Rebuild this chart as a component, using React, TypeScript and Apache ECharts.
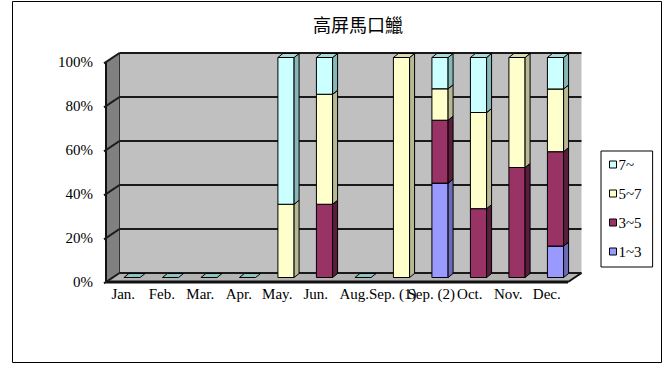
import React, { useEffect, useRef } from "react";
import * as echarts from "echarts";

// Months sampled (Sep. was sampled twice)
const categories = [
  "Jan.", "Feb.", "Mar.", "Apr.", "May.", "Jun.",
  "Aug.", "Sep. (1)", "Sep. (2)", "Oct.", "Nov.", "Dec.",
];

// Share (%) of each size class per month
const size1to3 = [0, 0, 0, 0, 0, 0, 0, 0, 42.9, 0, 0, 14.3];
const size3to5 = [0, 0, 0, 0, 0, 33.3, 0, 0, 28.6, 31.3, 50, 42.9];
const size5to7 = [0, 0, 0, 0, 33.3, 50, 0, 100, 14.3, 43.7, 50, 28.5];
const size7up = [0, 0, 0, 0, 66.7, 16.7, 0, 0, 14.2, 25, 0, 14.3];

const seriesNames = ["1~3", "3~5", "5~7", "7~"];
const seriesValues = [size1to3, size3to5, size5to7, size7up];
const yTicks = [0, 20, 40, 60, 80, 100];

const TITLE = "高屏馬口鱲";

// face colours: front, side, top
const palette = [
  { front: "#9999FF", side: "#6B6BB8", top: "#8080E0" },
  { front: "#993366", side: "#5A1E3C", top: "#7A2952" },
  { front: "#FFFFCC", side: "#B8B893", top: "#DADAAE" },
  { front: "#CCFFFF", side: "#86B8B8", top: "#A8DADA" },
];
const flatColor = "#8CC2C2";

// wall depth and bar depth offsets (3D look)
const DX = 13.5;
const DY = -9;
const BDX = 5;
const BDY = -4;

const SERIF = "'Liberation Serif', 'DejaVu Serif', serif";

export default function App() {
  const ref = useRef<HTMLDivElement>(null);

  useEffect(() => {
    if (!ref.current) return;
    const chart = echarts.init(ref.current, null, { renderer: "svg" });

    const frameSeries = {
      type: "custom",
      name: "frame",
      silent: true,
      clip: false,
      z: 1,
      encode: { x: 0, y: 1 },
      data: yTicks.map((v) => [0, v]),
      renderItem: (params: any, api: any) => {
        const cs = params.coordSys;
        const v = api.value(1);
        const y = api.coord([0, v])[1];
        const x = cs.x;
        const w = cs.width;
        const yb = cs.y + cs.height;
        const children: any[] = [];
        if (params.dataIndex === 0) {
          children.push({
            type: "rect",
            shape: { x: x + DX, y: cs.y + DY, width: w, height: cs.height },
            style: { fill: "#C0C0C0" },
          });
          children.push({
            type: "polygon",
            shape: {
              points: [
                [x, cs.y], [x + DX, cs.y + DY], [x + DX, yb + DY], [x, yb],
              ],
            },
            style: { fill: "#808080", stroke: "#333", lineWidth: 1 },
          });
          children.push({
            type: "polygon",
            shape: {
              points: [
                [x, yb], [x + DX, yb + DY], [x + DX + w, yb + DY], [x + w, yb],
              ],
            },
            style: { fill: "#B4B4B4" },
          });
          children.push({
            type: "line",
            shape: { x1: x, y1: yb, x2: x + w, y2: yb },
            style: { stroke: "#111", lineWidth: 3 },
          });
          children.push({
            type: "line",
            shape: { x1: x + w, y1: yb, x2: x + w + DX, y2: yb + DY },
            style: { stroke: "#111", lineWidth: 2 },
          });
          children.push({
            type: "line",
            shape: { x1: x, y1: cs.y, x2: x, y2: yb },
            style: { stroke: "#111", lineWidth: 2 },
          });
        }
        children.push({
          type: "line",
          shape: { x1: x + DX, y1: y + DY, x2: x + DX + w, y2: y + DY },
          style: { stroke: "#1a1a1a", lineWidth: 2 },
        });
        children.push({
          type: "line",
          shape: { x1: x - 2, y1: y + 1.3, x2: x + DX, y2: y + DY },
          style: { stroke: "#1a1a1a", lineWidth: 2 },
        });
        return { type: "group", children };
      },
    };

    const barSeries = seriesValues.map((vals, k) => {
      const data = vals.map((v, i) => {
        let start = 0;
        for (let j = 0; j < k; j++) start += seriesValues[j][i];
        return [i, start, start + v];
      });
      const col = palette[k];
      const isTop = k === seriesValues.length - 1;
      return {
        type: "custom",
        name: seriesNames[k],
        clip: false,
        z: 2,
        itemStyle: { color: col.front, borderColor: "#000", borderWidth: 1 },
        encode: { x: 0, y: [1, 2] },
        data,
        renderItem: (params: any, api: any) => {
          const i = api.value(0);
          const s = api.value(1);
          const e = api.value(2);
          const band = api.size([1, 0])[0];
          const bw = band * 0.42;
          const p0 = api.coord([i, s]);
          const p1 = api.coord([i, e]);
          const x0 = p0[0] - bw / 2 + DX / 2;
          const x1 = x0 + bw;
          const yb = p0[1] + DY / 2;
          const yt = p1[1] + DY / 2;
          if (e - s <= 0) {
            if (isTop && e <= 0) {
              return {
                type: "polygon",
                shape: {
                  points: [
                    [x0, yb], [x1, yb], [x1 + BDX, yb + BDY], [x0 + BDX, yb + BDY],
                  ],
                },
                style: { fill: flatColor, stroke: "#000", lineWidth: 1 },
              };
            }
            return null;
          }
          return {
            type: "group",
            children: [
              {
                type: "polygon",
                shape: { points: [[x0, yb], [x1, yb], [x1, yt], [x0, yt]] },
                style: { fill: col.front, stroke: "#000", lineWidth: 1 },
              },
              {
                type: "polygon",
                shape: {
                  points: [
                    [x1, yb], [x1 + BDX, yb + BDY], [x1 + BDX, yt + BDY], [x1, yt],
                  ],
                },
                style: { fill: col.side, stroke: "#000", lineWidth: 1 },
              },
              {
                type: "polygon",
                shape: {
                  points: [
                    [x0, yt], [x1, yt], [x1 + BDX, yt + BDY], [x0 + BDX, yt + BDY],
                  ],
                },
                style: { fill: col.top, stroke: "#000", lineWidth: 1 },
              },
            ],
          };
        },
      };
    });

    chart.setOption({
      animation: false,
      backgroundColor: "#FFFFFF",
      graphic: [
        {
          type: "rect",
          shape: { x: 12.5, y: 1.5, width: 649, height: 361 },
          style: { fill: "none", stroke: "#000", lineWidth: 1 },
          silent: true,
          z: 0,
        },
        {
          type: "text",
          x: 358,
          y: 24,
          style: {
            text: TITLE,
            fill: "#000",
            font: "18px 'Noto Sans CJK TC'",
            align: "center",
            verticalAlign: "middle",
          },
          silent: true,
        },
      ],
      legend: {
        orient: "vertical",
        left: 601,
        top: 151,
        data: [...seriesNames].reverse(),
        icon: "rect",
        itemWidth: 7,
        itemHeight: 7,
        itemGap: 14,
        padding: [6, 11, 8, 8],
        borderColor: "#000",
        borderWidth: 1,
        backgroundColor: "#FFFFFF",
        itemStyle: { borderColor: "#000", borderWidth: 1 },
        textStyle: {
          fontFamily: SERIF,
          fontSize: 15,
          lineHeight: 14,
          color: "#000",
          padding: [0, 0, 0, -3],
        },
      },
      grid: { left: 106, top: 62, width: 462, height: 220 },
      xAxis: {
        type: "category",
        data: categories,
        axisLine: { show: false },
        axisTick: { show: false },
        splitLine: { show: false },
        axisLabel: {
          interval: 0,
          hideOverlap: false,
          margin: 4,
          color: "#000",
          fontFamily: SERIF,
          fontSize: 15,
          padding: [0, 4, 0, 0],
        },
      },
      yAxis: {
        type: "value",
        min: 0,
        max: 100,
        interval: 20,
        axisLine: { show: false },
        axisTick: { show: false },
        splitLine: { show: false },
        axisLabel: {
          formatter: "{value}%",
          margin: 13,
          color: "#000",
          fontFamily: SERIF,
          fontSize: 15,
        },
      },
      series: [frameSeries, ...barSeries],
    });

    return () => chart.dispose();
  }, []);

  return (
    <div
      ref={ref}
      style={{ position: "absolute", left: 0, top: 0, width: 670, height: 365 }}
    />
  );
}
